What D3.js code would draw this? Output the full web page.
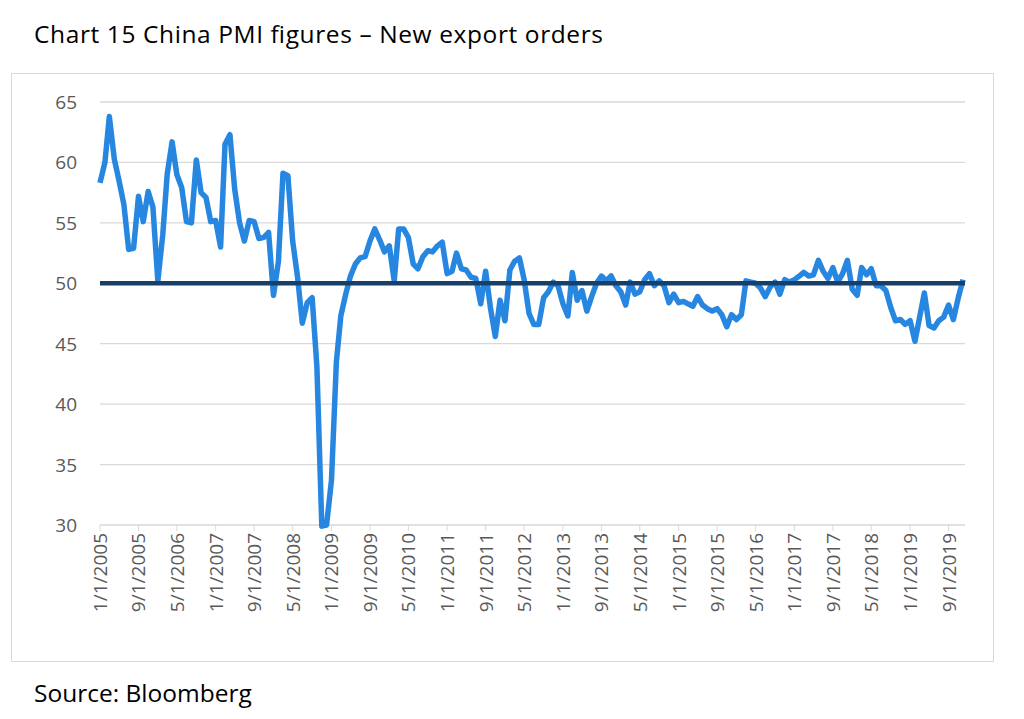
<!DOCTYPE html>
<html><head><meta charset="utf-8">
<script src="https://cdn.jsdelivr.net/npm/d3@7"></script>
<style>body{margin:0;background:#fff;font-family:"Open Sans","Liberation Sans",sans-serif}</style>
</head><body><svg id="c" width="1024" height="719"></svg>
<script>
const startYear = 2005;
const values = [
58.3,60,63.8,60.3,58.5,56.5,52.8,52.9,57.2,55.1,57.6,56.3,
50.2,54,59,61.7,59,57.9,55.1,55,60.2,57.5,57.1,55.1,
55.2,53,61.5,62.3,57.8,55,53.5,55.2,55.1,53.7,53.8,54.2,
49,51.8,59.1,58.9,53.5,50.5,46.7,48.4,48.8,43.1,29.9,30,
33.7,43.5,47.3,49.1,50.6,51.6,52.1,52.2,53.5,54.5,53.6,52.6,
53.1,50.2,54.5,54.5,53.8,51.6,51.2,52.2,52.7,52.6,53.1,53.4,
50.8,51,52.5,51.2,51.1,50.5,50.4,48.3,51,48,45.6,48.6,
46.9,51.1,51.8,52.1,50.3,47.5,46.6,46.6,48.8,49.3,50.1,49.8,
48.3,47.3,50.9,48.6,49.4,47.7,48.9,50,50.6,50.2,50.6,49.8,
49.3,48.2,50.1,49.1,49.3,50.3,50.8,49.8,50.2,49.8,48.4,49.1,
48.4,48.5,48.3,48.1,48.9,48.2,47.9,47.7,47.9,47.4,46.4,47.4,
47,47.4,50.2,50.1,50,49.6,48.9,49.7,50.1,49.1,50.3,50.1,
50.3,50.6,50.9,50.6,50.7,51.9,51,50.4,51.3,50.1,50.8,51.9,
49.5,49,51.3,50.7,51.2,49.8,49.8,49.4,48,46.9,47,46.6,
46.9,45.2,47.1,49.2,46.5,46.3,46.9,47.2,48.2,47,48.8,50.3];
const yTicks = [30,35,40,45,50,55,60,65];
const refLevel = 50;
const title = "Chart 15 China PMI figures \u2013 New export orders";
const source = "Source: Bloomberg";

const svg = d3.select("#c");
const data = values.map((v,i)=>({d:new Date(startYear, i, 1), v}));
const L=100, R=965, T=102, B=525;
const x = d3.scaleTime().domain([new Date(2005,0,1), new Date(2019,11,1)]).range([L, 963]);
const y = d3.scaleLinear().domain([30,65]).range([B,T]);

svg.append("rect").attr("x",11.5).attr("y",73.5).attr("width",982).attr("height",588).attr("fill","none").attr("stroke","#d9d9d9");
svg.append("text").attr("x",34).attr("y",43).attr("font-size",24.5).attr("fill","#000").attr("textLength",569).text(title);
svg.append("text").attr("x",34).attr("y",702).attr("font-size",24.5).attr("fill","#000").text(source);

svg.append("g").selectAll("line").data(yTicks).join("line")
 .attr("x1",L).attr("x2",R).attr("y1",d=>y(d)).attr("y2",d=>y(d)).attr("stroke","#d9d9d9").attr("stroke-width",1.3);
svg.append("g").selectAll("text").data(yTicks).join("text")
 .attr("x",77).attr("y",d=>y(d)+7).attr("text-anchor","end").attr("font-size",19).attr("fill","#595959").text(d=>d);

const xTicks = d3.range(0,180,8).map(i=>new Date(startYear,i,1));
const fmt = d=>`${d.getMonth()+1}/1/${d.getFullYear()}`;
const gx = svg.append("g");
gx.selectAll("line").data(xTicks).join("line")
 .attr("x1",d=>x(d)).attr("x2",d=>x(d)).attr("y1",B).attr("y2",B+6).attr("stroke","#d9d9d9");
gx.selectAll("text").data(xTicks).join("text")
 .attr("transform",d=>`translate(${x(d)+7},${B+8}) rotate(-90)`)
 .attr("text-anchor","end").attr("font-size",19).attr("fill","#595959").text(fmt);

svg.append("path").datum(data).attr("fill","none").attr("stroke","#2787e0").attr("stroke-width",5.5)
 .attr("stroke-linejoin","round").attr("d",d3.line().x(d=>x(d.d)).y(d=>y(d.v)));
svg.append("line").attr("x1",L).attr("x2",R).attr("y1",y(refLevel)).attr("y2",y(refLevel))
 .attr("stroke","#173f68").attr("stroke-width",4.5);
</script></body></html>
